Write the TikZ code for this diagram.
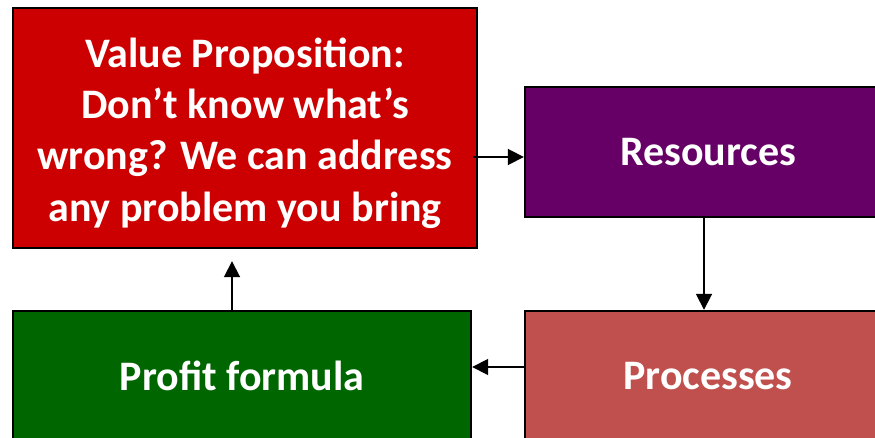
\documentclass[tikz,border=0pt]{standalone}
\usepackage{fontspec}
\setmainfont{Carlito}
\usepackage{tikz}
\usetikzlibrary{arrows.meta}

\definecolor{vpred}{HTML}{CC0000}
\definecolor{respurple}{HTML}{660066}
\definecolor{procred}{HTML}{C0504D}
\definecolor{profgreen}{HTML}{006600}

\begin{document}
\begin{tikzpicture}[x = 1pt, y = -1pt]
		\tikzset{> = latex}
		\tikzset{blocktext/.style = {text = white, align = center, inner sep = 0pt,
				font = \fontsize{42}{51.3}\selectfont\bfseries},
			blockbox/.style = {blocktext, draw = black, line width = 2.4pt},
			flowline/.style = {->, line width = 1.8pt, >={Triangle[length=16pt,width=16pt]}}}
		\useasboundingbox (0,0) rectangle (875,438);
		\node[blockbox, fill = vpred, minimum width = 464pt, minimum height = 240pt,
			label = {[blocktext, yshift = -5pt]center:{Value Proposition:\\Don’t know what’s\\wrong? We can address\\any problem you bring}}] (VP) at (245,128) {};
		\node[blockbox, fill = respurple, minimum width = 366pt, minimum height = 130pt] (Res) at (708,152) {Resources};
		\node[blockbox, fill = procred, minimum width = 366pt, minimum height = 130pt] (Proc) at (708,376) {Processes};
		\node[blockbox, fill = profgreen, minimum width = 458pt, minimum height = 130pt] (Profit) at (242,376) {Profit formula};
		\draw[flowline] ([xshift = -5pt, yshift = -5pt]VP.east |- Res.west) -- ([yshift = -5pt]Res.west);
		\draw[flowline] ([xshift = -4pt]Res.south) -- ([xshift = -4pt]Res.south |- Proc.north);
		\draw[flowline] ([yshift = 9pt]Proc.west) -- ([yshift = 9pt]Proc.west -| Profit.east);
		\draw[flowline] ([xshift = -10pt]Profit.north) -- ([xshift = -10pt, yshift = -12pt]Profit.north |- VP.south);
	\end{tikzpicture}
\end{document}
